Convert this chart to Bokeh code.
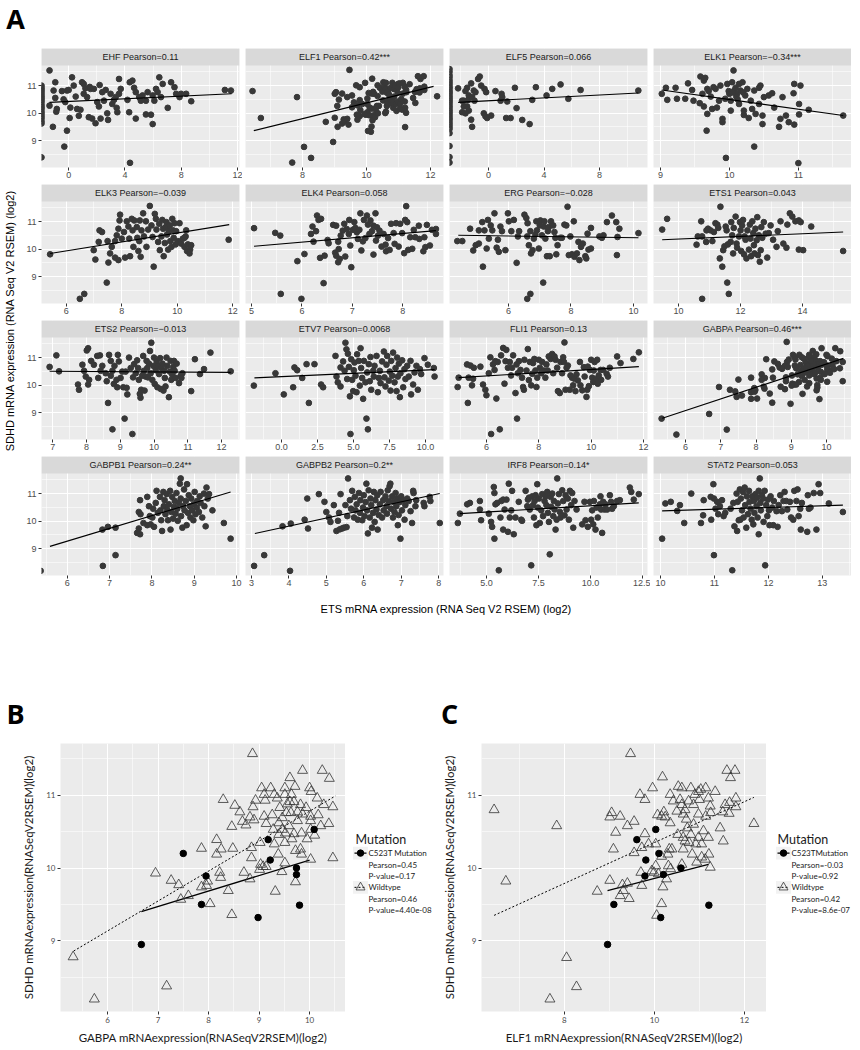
from bokeh.plotting import figure
from bokeh.layouts import row, column
from bokeh.models import Range1d, FixedTicker, BoxAnnotation, Label
from bokeh.core.properties import value
from bokeh.embed import file_html
from bokeh.resources import INLINE
import math

# ---------------------------------------------------------------- data (A)
GENES = ["EHF", "ELF1", "ELF5", "ELK1", "ELK3", "ELK4", "ERG", "ETS1",
         "ETS2", "ETV7", "FLI1", "GABPA", "GABPB1", "GABPB2", "IRF8", "STAT2"]
STRIP_TITLES = ["EHF Pearson=0.11", "ELF1 Pearson=0.42***", "ELF5 Pearson=0.066", "ELK1 Pearson=\u22120.34***",
                "ELK3 Pearson=\u22120.039", "ELK4 Pearson=0.058", "ERG Pearson=\u22120.028", "ETS1 Pearson=0.043",
                "ETS2 Pearson=\u22120.013", "ETV7 Pearson=0.0068", "FLI1 Pearson=0.13", "GABPA Pearson=0.46***",
                "GABPB1 Pearson=0.24**", "GABPB2 Pearson=0.2**", "IRF8 Pearson=0.14*", "STAT2 Pearson=0.053"]
X_RANGES = [(-1.93, 12.14), (6.22, 12.41), (-2.81, 11.45), (8.9, 11.77),
            (5.11, 12.24), (4.88, 8.81), (4.11, 10.45), (9.19, 15.58),
            (6.67, 12.53), (-2.5, 11.25), (4.59, 12.15), (5.09, 10.71),
            (5.39, 10.07), (2.84, 8.13), (3.22, 12.74), (9.87, 13.54)]
X_TICKS = [[0, 4, 8, 12], [8, 10, 12], [0, 4, 8], [9, 10, 11],
           [6, 8, 10, 12], [5, 6, 7, 8], [6, 8, 10], [10, 12, 14],
           [7, 8, 9, 10, 11, 12], [0, 2.5, 5, 7.5, 10], [6, 8, 10, 12], [6, 7, 8, 9, 10],
           [6, 7, 8, 9, 10], [3, 4, 5, 6, 7, 8], [5, 7.5, 10, 12.5], [10, 11, 12, 13]]
X_TICK_LABELS = [["0", "4", "8", "12"], ["8", "10", "12"], ["0", "4", "8"], ["9", "10", "11"],
                 ["6", "8", "10", "12"], ["5", "6", "7", "8"], ["6", "8", "10"], ["10", "12", "14"],
                 ["7", "8", "9", "10", "11", "12"], ["0.0", "2.5", "5.0", "7.5", "10.0"], ["6", "8", "10", "12"],
                 ["6", "7", "8", "9", "10"], ["6", "7", "8", "9", "10"], ["3", "4", "5", "6", "7", "8"],
                 ["5.0", "7.5", "10.0", "12.5"], ["10", "11", "12", "13"]]
Y_TICKS = [9, 10, 11]
Y_TICK_LABELS = ["9", "10", "11"]

# least-squares lines as drawn (x0, y0, x1, y1)
FITS = [(-1.36, 10.39, 11.58, 10.70), (6.48, 9.36, 12.10, 10.97), (-2.19, 10.39, 10.79, 10.73),
        (9.02, 10.84, 11.65, 9.91), (5.42, 9.84, 11.87, 10.89), (5.05, 10.10, 8.66, 10.67),
        (4.39, 10.50, 10.16, 10.41), (9.47, 10.34, 15.31, 10.62), (6.91, 10.50, 12.27, 10.46),
        (-1.88, 10.26, 10.63, 10.56), (4.94, 10.27, 11.82, 10.67), (5.34, 8.79, 10.48, 10.97),
        (5.59, 9.08, 9.86, 11.06), (3.09, 9.55, 8.03, 11.00), (3.72, 10.27, 12.32, 10.66),
        (10.03, 10.37, 13.38, 10.58)]

# samples with zero expression (log2 = -Inf), drawn on the panel edge
EHF_NEGINF_Y = [11.0, 10.92, 10.85, 10.78, 10.7, 10.62, 10.55, 10.48, 10.4, 10.3, 10.22, 10.15,
                10.05, 9.97, 9.88, 9.8, 9.7, 9.62, 8.39]
ELF5_NEGINF_Y = [11.6, 11.5, 11.38, 11.3, 11.2, 11.12, 11.04, 10.96, 10.9, 10.82, 10.76, 10.7, 10.62,
                 10.55, 10.48, 10.42, 10.35, 10.27, 10.2, 10.12, 10.05, 9.98, 9.9, 9.82, 9.75, 9.66,
                 9.58, 9.5, 9.42, 9.27, 8.8, 8.4, 8.2]

EHF_PTS = [(-1.36,11.55),(-0.95,11.12),(-1.07,10.82),(-1.36,10.27),(-1.12,9.5),(-0.95,10.55),(-0.84,10.15),
           (-0.88,10.05),(-0.48,10.8),(-0.36,10.5),(-0.24,10.4),(-0.12,10.82),(0.0,10.84),(0.12,10.2),
           (0.07,9.82),(-0.12,9.36),(-0.31,8.78),(0.24,11.3),(0.36,11.0),(0.6,10.15),(0.72,9.9),(0.84,10.12),
           (0.95,11.12),(1.07,11.06),(1.19,10.9),(1.07,10.7),(1.31,10.58),(1.43,9.85),(1.67,9.8),(1.91,9.63),
           (1.55,10.88),(1.79,10.88),(2.03,10.4),(2.15,10.24),(2.27,9.8),(2.39,10.76),(2.51,10.45),(2.63,10.84),
           (2.74,9.99),(2.8,9.75),(2.98,10.7),(3.1,10.33),(3.22,10.48),(3.34,10.58),(3.41,10.19),(3.46,10.03),
           (3.58,10.7),(3.58,11.24),(3.7,10.88),(4.18,10.48),(4.3,10.03),(4.34,11.12),(4.53,11.18),(4.65,10.92),
           (4.77,10.76),(4.77,9.8),(5.01,10.58),(5.13,10.45),(5.25,10.64),(5.49,10.45),(5.49,9.95),(5.61,10.76),
           (5.85,9.94),(5.97,9.6),(5.97,10.64),(6.09,10.45),(6.21,10.88),(6.44,11.3),(6.32,10.76),(6.56,10.58),
           (6.68,11.06),(7.04,10.19),(7.28,11.12),(7.52,10.94),(7.64,10.7),(7.88,10.58),(7.99,10.7),(8.35,10.7),
           (8.71,10.43),(11.1,10.84),(11.53,10.82),(4.36,8.19),(1.5,10.95),(2.2,11.02),(0.5,10.6)]

ELF5_PTS = [(-2.19,10.9),(-1.78,10.45),(-1.54,10.92),(-1.25,11.08),(-1.06,10.82),(-1.66,10.8),(-1.42,10.64),
            (-1.9,10.45),(-1.47,10.48),(-1.18,10.58),(-0.94,10.76),(-1.78,10.24),(-1.54,10.24),(-1.42,10.09),
            (-1.9,10.03),(-1.66,9.99),(-1.25,9.76),(-1.18,9.5),(-0.75,11.24),(-0.63,11.33),(-0.53,11.0),
            (-0.29,10.88),(-0.17,10.76),(-1.01,10.45),(-0.34,9.99),(-0.22,9.88),(-0.1,9.82),(0.19,9.91),
            (0.5,10.8),(0.94,10.7),(0.99,10.58),(0.87,10.45),(1.35,10.42),(1.27,9.82),(1.59,9.82),(1.9,10.92),
            (2.02,10.18),(2.43,9.75),(2.96,9.6),(3.15,10.48),(3.41,10.94),(4.18,10.64),(4.59,10.88),
            (5.19,11.04),(5.75,10.52),(6.63,10.84),(10.79,10.82)]

ELK1_PTS = [(9.02,10.7),(9.08,10.92),(9.1,10.48),(9.22,10.92),(9.24,10.52),(9.36,10.52),(9.4,11.08),(9.46,10.84),
            (9.48,10.45),(9.58,11.33),(9.61,10.7),(9.63,11.18),(9.65,11.28),(9.68,10.88),(9.57,10.36),(9.63,10.24),
            (9.68,9.97),(9.67,9.36),(9.7,10.8),(9.73,10.6),(9.75,10.15),(9.77,10.94),(9.8,10.88),(9.82,10.2),
            (9.87,11.0),(9.85,10.45),(9.9,9.79),(9.9,9.67),(9.94,10.52),(9.97,11.06),(9.99,10.8),(10.02,10.45),
            (10.02,10.09),(10.04,11.12),(10.06,11.55),(10.07,10.82),(10.09,10.92),(10.11,10.7),(10.14,11.06),
            (10.14,10.33),(10.16,10.82),(10.19,11.12),(10.21,10.09),(10.23,10.64),(10.26,10.88),(10.28,9.82),
            (10.31,10.45),(10.21,9.93),(10.33,10.15),(10.36,10.82),(10.38,9.97),(10.43,10.33),(10.43,10.92),
            (10.45,11.0),(10.48,9.91),(10.48,9.6),(10.36,8.78),(10.5,10.58),(10.57,10.64),(10.62,10.72),
            (10.65,10.2),(10.72,9.5),(10.74,9.79),(10.77,10.58),(10.82,9.91),(10.94,11.06),(11.03,11.0),
            (10.93,10.72),(11.01,10.33),(10.86,9.67),(10.94,9.58),(11.01,9.95),(11.15,10.12),(11.65,9.91),
            (9.95,8.37),(11.0,8.18),(10.0,10.7),(10.1,10.6),(10.05,10.75),(10.2,10.75),(10.12,10.5)]

ELK3_PTS = [(5.42,9.81),(6.49,8.19),(6.65,8.37),(7.46,8.78),(6.99,9.96),(7.05,9.62),(7.17,10.26),(7.29,10.62),
            (7.49,10.29),(7.52,9.51),(7.58,9.84),(7.64,10.08),(7.76,9.69),(7.88,9.6),(7.76,10.29),(7.82,10.5),
            (7.88,10.74),(7.92,11.04),(7.94,11.25),(8.0,10.38),(8.08,10.62),(8.12,9.69),(8.18,11.01),(8.24,10.82),
            (8.27,10.38),(8.3,9.74),(8.36,11.1),(8.39,10.68),(8.42,10.08),(8.45,11.04),(8.54,10.8),(8.56,10.41),
            (8.6,9.93),(8.63,10.29),(8.65,11.04),(8.68,9.72),(8.71,10.68),(8.77,11.3),(8.8,10.46),(8.87,11.01),
            (8.89,10.08),(8.95,10.71),(9.01,11.57),(9.07,10.86),(9.11,10.44),(9.15,9.36),(9.19,11.28),(9.23,11.1),
            (9.25,10.71),(9.31,10.26),(9.35,10.92),(9.37,9.96),(9.43,10.46),(9.46,11.06),(9.49,10.74),(9.51,9.74),
            (9.55,10.22),(9.58,10.8),(9.61,10.98),(9.63,10.53),(9.67,9.98),(9.7,10.65),(9.73,10.86),(9.75,10.29),
            (9.79,10.08),(9.82,11.1),(9.85,10.68),(9.87,10.41),(9.9,10.94),(9.94,10.17),(9.96,10.65),(10.02,10.29),
            (10.08,10.94),(10.14,10.2),(10.2,10.38),(10.26,10.08),(10.3,10.46),(10.35,9.93),(10.38,10.17),
            (10.44,9.84),(10.46,9.98),(10.5,10.14),(10.32,10.68),(10.26,10.41),(11.85,10.34),(7.2,10.68)]

ELK4_PTS = [(5.05,10.76),(5.47,10.59),(5.57,10.49),(5.58,8.37),(5.99,8.19),(5.91,9.56),(6.05,9.82),(6.18,10.55),
            (6.21,10.82),(6.23,10.27),(6.28,10.65),(6.3,11.22),(6.33,11.06),(6.38,11.1),(6.36,9.68),(6.43,8.76),
            (6.45,9.76),(6.51,10.33),(6.53,10.21),(6.62,10.88),(6.68,10.85),(6.66,9.87),(6.68,9.76),(6.72,10.27),
            (6.73,10.0),(6.72,9.52),(6.75,9.64),(6.77,10.49),(6.81,10.67),(6.84,10.92),(6.86,9.73),(6.89,10.73),
            (6.93,10.55),(6.94,11.06),(6.96,10.13),(6.98,9.34),(7.01,10.7),(7.04,10.98),(7.06,10.77),(7.09,10.61),
            (7.11,10.37),(7.14,10.7),(7.16,11.3),(7.18,9.95),(7.21,10.28),(7.23,11.06),(7.26,10.4),(7.29,11.22),
            (7.31,10.89),(7.34,10.55),(7.36,11.04),(7.39,10.65),(7.42,9.8),(7.42,10.85),(7.46,11.3),(7.47,10.31),
            (7.49,10.79),(7.51,10.49),(7.54,10.67),(7.58,10.09),(7.62,10.55),(7.66,10.16),(7.67,9.92),(7.71,10.4),
            (7.74,9.97),(7.77,10.92),(7.82,10.58),(7.84,10.19),(7.87,10.94),(7.92,10.09),(7.95,10.92),(7.99,10.58),
            (8.03,9.85),(8.05,11.06),(8.07,11.56),(8.09,10.98),(8.11,9.97),(8.15,10.43),(8.19,10.01),(8.22,10.7),
            (8.25,10.43),(8.32,10.85),(8.33,10.37),(8.41,9.92),(8.43,10.43),(8.45,10.07),(8.48,10.88),(8.54,10.13),
            (8.58,10.7),(8.66,10.55),(8.66,10.73)]

ERG_PTS = [(4.36,10.29),(4.52,10.29),(4.77,10.74),(4.87,9.95),(4.95,10.14),(5.05,10.2),(5.05,10.68),(5.16,10.98),
           (5.18,9.36),(5.23,10.68),(5.3,10.02),(5.34,11.06),(5.37,10.38),(5.43,10.86),(5.48,10.68),(5.55,11.3),
           (5.62,10.05),(5.66,10.34),(5.69,9.9),(5.74,10.82),(5.79,10.65),(5.9,9.96),(5.98,11.3),(6.01,11.01),
           (6.09,10.65),(6.17,11.06),(6.26,9.5),(6.3,10.46),(6.34,10.65),(6.51,11.25),(6.57,11.13),(6.6,10.46),
           (6.61,10.94),(6.65,10.14),(6.7,10.65),(6.72,9.84),(6.77,9.96),(6.81,10.38),(6.86,10.53),(6.89,11.01),
           (6.91,10.68),(6.97,10.02),(7.0,10.86),(7.02,11.04),(7.07,10.5),(7.13,10.82),(7.15,11.01),(7.18,10.38),
           (7.23,9.74),(7.26,10.65),(7.29,10.8),(7.32,9.74),(7.36,11.01),(7.43,10.86),(7.47,10.62),(7.5,10.41),
           (7.53,9.81),(7.57,10.14),(7.66,10.41),(7.71,10.41),(7.79,10.89),(7.85,10.86),(7.89,11.54),(7.93,9.78),
           (7.98,10.46),(8.03,9.81),(8.09,11.01),(8.11,9.72),(8.19,9.84),(8.24,10.26),(8.27,9.6),(8.32,10.08),
           (8.38,10.2),(8.46,9.74),(8.49,9.66),(8.53,10.56),(8.56,9.98),(8.64,10.77),(8.64,10.02),(8.91,10.46),
           (8.99,10.41),(9.04,10.5),(9.15,10.98),(9.31,11.22),(9.45,10.98),(9.47,9.78),(9.49,10.44),(9.55,10.74),
           (10.16,10.58),(7.11,8.78),(6.6,8.19),(6.7,8.37)]

ETS1_PTS = [(9.47,10.71),(9.63,11.1),(10.58,10.16),(10.62,10.46),(10.73,11.01),(10.76,10.46),(10.89,10.26),
            (10.9,10.68),(10.95,10.74),(11.03,10.68),(11.09,10.29),(11.14,10.62),(11.19,10.94),(11.25,10.89),
            (11.28,10.77),(11.33,9.66),(11.35,11.54),(11.41,9.36),(11.44,9.96),(11.48,10.1),(11.52,10.82),
            (11.55,10.68),(11.57,8.78),(11.62,8.37),(10.76,8.19),(11.59,10.17),(11.68,10.26),(11.7,10.98),
            (11.73,10.5),(11.76,9.84),(11.78,10.77),(11.84,11.18),(11.87,10.2),(11.89,10.05),(11.95,10.46),
            (11.98,10.98),(12.0,10.68),(12.02,9.93),(12.05,10.86),(12.08,11.06),(12.11,9.81),(12.13,10.46),
            (12.16,10.34),(12.19,9.66),(12.22,10.68),(12.27,9.98),(12.3,10.89),(12.32,10.38),(12.34,9.74),
            (12.38,11.01),(12.41,10.58),(12.43,10.14),(12.45,9.84),(12.48,10.74),(12.52,10.32),(12.54,11.16),
            (12.56,9.78),(12.59,10.5),(12.62,9.54),(12.65,9.96),(12.67,10.8),(12.7,10.41),(12.75,10.98),
            (12.81,10.56),(12.86,9.69),(12.91,10.58),(12.97,10.86),(13.05,10.34),(13.16,10.08),(13.2,10.65),
            (13.29,11.01),(13.38,10.2),(13.48,10.05),(13.51,10.89),(13.59,11.3),(13.67,11.18),(13.77,11.01),
            (13.88,11.04),(13.94,10.98),(13.88,9.98),(14.02,9.96),(14.28,10.82),(15.31,9.93)]

ETS2_PTS = [(6.91,10.66),(7.11,11.08),(7.19,10.5),(7.75,10.02),(7.78,9.83),(7.88,10.74),(7.93,10.52),(7.98,10.31),
            (8.01,11.26),(8.05,11.34),(8.08,10.19),(8.05,10.02),(8.14,10.88),(8.22,10.74),(8.32,11.06),(8.35,10.26),
            (8.4,11.08),(8.42,10.52),(8.47,10.7),(8.57,10.43),(8.6,10.14),(8.64,9.35),(8.67,11.1),(8.72,10.88),
            (8.72,10.34),(8.77,10.52),(8.81,10.04),(8.83,10.7),(8.89,10.19),(8.91,9.92),(8.93,11.1),(8.77,8.39),
            (8.96,10.86),(9.01,10.26),(9.06,10.49),(9.09,9.92),(9.13,8.78),(9.16,10.49),(9.19,9.9),(9.21,9.66),
            (9.26,11.0),(9.31,10.62),(9.36,8.22),(9.38,10.28),(9.41,10.76),(9.46,10.43),(9.5,10.9),(9.53,10.62),
            (9.55,10.19),(9.58,9.68),(9.6,9.54),(9.62,9.83),(9.65,10.34),(9.68,11.06),(9.7,10.52),(9.72,9.8),
            (9.75,10.31),(9.78,10.88),(9.8,10.62),(9.82,10.28),(9.85,10.78),(9.88,11.24),(9.9,10.43),(9.92,11.54),
            (9.95,10.19),(9.98,10.7),(10.0,11.0),(10.02,10.04),(10.05,10.54),(10.08,10.86),(10.1,9.92),(10.13,10.7),
            (10.15,10.4),(10.18,10.98),(10.2,9.86),(10.22,10.62),(10.25,10.78),(10.28,9.8),(10.3,10.52),
            (10.32,10.26),(10.34,9.95),(10.37,11.0),(10.39,10.7),(10.44,9.56),(10.47,10.49),(10.49,10.88),
            (10.51,10.19),(10.54,10.38),(10.57,10.66),(10.59,10.88),(10.61,10.52),(10.64,10.26),(10.67,10.78),
            (10.74,10.07),(10.79,10.34),(10.81,10.26),(10.84,10.43),(11.1,9.78),(11.21,10.94),(11.36,10.4),
            (11.48,10.58),(11.67,11.18),(12.27,10.5)]

ETV7_PTS = [(-1.92,9.98),(-0.42,10.43),(0.16,9.66),(0.81,9.92),(0.9,10.64),(1.09,10.54),(1.44,10.26),(1.74,10.76),
            (1.9,9.35),(2.29,10.76),(2.75,10.02),(2.89,9.92),(3.75,11.06),(3.82,10.31),(3.91,10.1),(4.1,9.95),
            (4.1,10.64),(4.28,10.86),(4.38,10.52),(4.44,11.54),(4.51,11.3),(4.56,10.22),(4.61,11.14),(4.68,10.66),
            (4.75,9.59),(4.79,8.22),(4.84,10.94),(4.91,10.19),(4.98,9.78),(5.02,10.54),(5.07,10.82),(5.14,10.34),
            (5.21,9.74),(5.25,11.12),(5.37,10.88),(5.44,9.98),(5.49,11.34),(5.53,10.62),(5.6,10.26),(5.67,9.5),
            (5.72,10.88),(5.83,10.1),(5.9,8.78),(5.95,10.46),(6.0,8.39),(6.06,10.76),(6.13,10.14),(6.18,11.02),
            (6.23,9.83),(6.37,10.52),(6.41,10.31),(6.46,10.7),(6.6,11.06),(6.69,9.74),(6.76,10.26),(6.83,10.52),
            (6.88,10.07),(6.99,10.86),(7.11,11.22),(7.15,10.28),(7.22,9.95),(7.29,10.74),(7.34,11.06),(7.45,10.16),
            (7.52,10.49),(7.57,9.8),(7.62,10.88),(7.69,10.34),(7.75,11.18),(7.85,10.1),(7.92,10.62),(7.99,9.78),
            (8.03,11.0),(8.08,10.31),(8.15,10.78),(8.22,9.56),(8.26,10.43),(8.38,10.9),(8.45,9.92),(8.54,10.58),
            (8.61,10.22),(8.73,10.7),(8.84,10.31),(8.96,10.88),(9.0,9.66),(9.14,10.02),(9.24,10.46),(9.37,10.7),
            (9.47,9.83),(9.61,10.58),(9.7,10.4),(9.93,10.98),(10.16,10.74),(10.63,10.31),(10.58,10.62)]

FLI1_PTS = [(4.9,9.93),(4.94,10.27),(5.26,10.75),(5.32,10.27),(5.29,9.35),(5.39,10.71),(5.45,9.99),(5.49,10.23),
            (5.52,10.63),(5.77,10.67),(5.87,10.02),(5.96,9.83),(6.0,9.63),(6.09,10.43),(6.15,11.01),(6.18,8.22),
            (6.25,10.75),(6.31,10.55),(6.34,10.87),(6.38,9.51),(6.43,10.84),(6.51,8.39),(6.56,11.08),(6.64,11.35),
            (6.69,10.05),(6.73,10.87),(6.76,11.28),(6.82,10.63),(6.89,10.84),(6.94,10.35),(6.98,10.63),(7.02,11.08),
            (7.11,9.71),(7.15,10.75),(7.17,8.78),(7.2,10.43),(7.24,10.87),(7.3,10.55),(7.36,10.27),(7.4,9.93),
            (7.43,9.83),(7.45,10.92),(7.53,10.53),(7.58,11.31),(7.62,10.18),(7.66,10.84),(7.71,9.99),(7.75,10.41),
            (7.78,10.8),(7.83,10.95),(7.87,10.53),(7.91,9.93),(7.94,10.27),(8.0,10.92),(8.04,10.63),(8.09,10.43),
            (8.13,10.84),(8.19,10.53),(8.25,10.27),(8.29,10.75),(8.34,10.53),(8.38,11.04),(8.45,10.95),(8.51,11.13),
            (8.55,10.43),(8.6,11.04),(8.64,10.92),(8.7,10.63),(8.73,9.78),(8.8,9.71),(8.83,10.84),(8.89,10.43),
            (8.93,11.01),(8.96,10.84),(8.98,11.55),(9.02,9.83),(9.06,10.63),(9.11,10.71),(9.18,9.83),(9.21,10.35),
            (9.27,10.27),(9.31,9.99),(9.36,10.23),(9.4,9.78),(9.44,10.39),(9.49,10.17),(9.57,10.84),(9.59,9.99),
            (9.66,9.81),(9.72,10.65),(9.75,10.31),(9.82,9.57),(9.85,9.83),(9.87,10.67),(9.91,9.96),(9.95,10.55),
            (10.0,10.92),(10.04,10.27),(10.08,10.11),(10.1,10.53),(10.13,10.84),(10.2,10.23),(10.23,10.92),
            (10.29,10.35),(10.36,10.55),(10.46,10.55),(10.59,10.41),(10.64,10.31),(10.71,10.63),(10.99,11.04),
            (11.12,10.8),(11.61,10.95),(11.82,11.19),(10.38,10.19),(10.25,10.05)]

GABPB1_PTS = [(5.37,8.19),(6.83,9.69),(6.84,8.37),(6.96,9.79),(7.14,9.76),(7.14,8.76),(7.65,9.57),(7.72,9.52),
              (7.69,9.73),(7.69,10.33),(7.72,10.76),(7.73,10.25),(7.8,9.93),(7.89,9.85),(7.89,10.88),(7.93,10.54),
              (7.95,10.18),(7.97,9.88),(8.01,10.13),(8.03,10.45),(8.05,9.79),(8.09,10.66),(8.11,11.1),(8.14,10.3),
              (8.19,10.88),(8.2,10.39),(8.22,10.03),(8.24,9.64),(8.27,11.06),(8.28,10.54),(8.3,10.76),(8.32,10.25),
              (8.35,10.98),(8.36,10.42),(8.38,10.03),(8.4,10.61),(8.43,11.1),(8.44,9.69),(8.46,10.33),(8.48,10.88),
              (8.5,10.09),(8.52,10.52),(8.54,10.73),(8.56,10.27),(8.58,11.02),(8.6,10.45),(8.61,10.01),(8.64,10.66),
              (8.66,11.36),(8.68,11.55),(8.68,10.82),(8.69,10.18),(8.72,9.76),(8.74,10.54),(8.76,11.15),(8.77,10.39),
              (8.8,10.73),(8.82,9.85),(8.83,11.34),(8.85,10.3),(8.87,10.94),(8.9,10.54),(8.91,10.13),(8.93,10.82),
              (8.95,10.39),(8.98,10.03),(8.99,10.61),(9.01,11.06),(9.03,10.25),(9.06,10.49),(9.07,10.73),(9.11,10.33),
              (9.13,10.9),(9.15,10.66),(9.19,10.13),(9.23,11.0),(9.24,10.54),(9.27,9.81),(9.29,11.22),(9.32,10.82),
              (9.35,10.98),(9.43,10.39),(9.7,9.93),(9.86,9.36)]

GABPB2_PTS = [(3.07,8.37),(3.34,8.76),(3.83,9.81),(4.03,8.19),(4.05,9.91),(4.42,10.05),(4.49,10.82),(4.51,9.73),
              (4.8,10.98),(4.95,10.7),(5.0,10.33),(5.07,10.13),(5.11,9.97),(5.2,10.58),(5.27,9.64),(5.31,10.01),
              (5.34,10.3),(5.36,9.7),(5.38,10.98),(5.42,9.73),(5.47,9.76),(5.51,10.58),(5.54,9.78),(5.56,10.18),
              (5.58,11.55),(5.63,10.76),(5.66,10.45),(5.69,11.1),(5.74,10.13),(5.76,10.88),(5.78,10.39),(5.81,10.61),
              (5.84,10.05),(5.87,11.02),(5.9,10.3),(5.91,10.76),(5.96,10.03),(5.98,10.49),(6.0,10.94),(6.02,10.18),
              (6.05,10.69),(6.07,11.36),(6.09,10.39),(6.11,9.55),(6.13,11.12),(6.16,10.13),(6.18,10.82),(6.2,10.58),
              (6.22,9.76),(6.25,10.3),(6.27,11.06),(6.29,9.97),(6.31,10.76),(6.34,10.42),(6.36,10.94),(6.37,9.69),
              (6.4,10.22),(6.43,10.61),(6.45,11.06),(6.49,10.13),(6.52,10.76),(6.53,10.39),(6.58,10.9),(6.61,10.54),
              (6.62,10.27),(6.64,11.12),(6.67,10.73),(6.69,11.27),(6.71,11.36),(6.73,10.45),(6.76,10.9),(6.78,10.13),
              (6.8,10.7),(6.82,10.33),(6.85,11.02),(6.87,10.54),(6.89,10.82),(6.91,9.85),(6.93,10.22),(6.96,10.69),
              (6.98,9.36),(7.0,10.9),(7.02,10.39),(7.05,10.76),(7.09,10.05),(7.11,10.58),(7.16,10.82),(7.2,10.73),
              (7.25,10.36),(7.29,9.93),(7.32,11.1),(7.33,11.02),(7.38,10.54),(7.4,10.76),(7.6,10.66),(7.62,10.54),
              (7.76,10.88),(7.78,10.73),(8.03,9.93)]

IRF8_PTS = [(3.62,9.93),(3.72,10.27),(4.07,10.61),(4.2,10.66),(4.68,10.73),(4.68,10.42),(4.74,10.03),(5.11,10.27),
            (5.22,9.97),(5.27,9.79),(5.35,11.24),(5.38,11.02),(5.43,10.61),(5.38,9.36),(5.51,10.66),(5.59,8.21),
            (5.67,10.13),(5.71,10.73),(5.8,10.78),(5.8,9.69),(5.87,10.42),(5.96,10.78),(6.03,9.61),(6.07,11.36),
            (6.12,10.13),(6.19,10.39),(6.23,11.1),(6.31,9.52),(6.39,10.13),(6.55,10.7),(6.67,10.05),(6.71,10.01),
            (6.88,11.1),(6.96,10.54),(6.99,10.78),(7.04,10.85),(7.08,10.42),(7.15,8.39),(7.2,10.9),(7.24,10.58),
            (7.28,10.13),(7.31,10.73),(7.36,10.94),(7.4,9.85),(7.44,11.34),(7.47,10.49),(7.52,10.82),(7.56,9.93),
            (7.63,10.39),(7.68,10.98),(7.72,10.18),(7.79,10.73),(7.84,10.9),(7.88,10.58),(7.92,11.06),(7.95,10.3),
            (8.0,9.97),(8.04,8.79),(8.08,10.88),(8.11,10.52),(8.16,11.0),(8.21,10.18),(8.24,10.73),(8.27,10.42),
            (8.32,9.69),(8.37,10.05),(8.4,11.55),(8.43,10.64),(8.48,10.98),(8.53,10.33),(8.56,10.13),(8.64,11.12),
            (8.69,10.73),(8.75,10.21),(8.8,10.94),(8.85,10.42),(8.91,10.82),(8.96,10.05),(9.01,11.1),(9.07,10.58),
            (9.12,11.02),(9.17,9.76),(9.23,10.73),(9.33,10.42),(9.71,10.7),(9.6,9.88),(9.76,10.03),(9.87,9.79),
            (9.97,10.7),(10.03,10.05),(10.08,10.39),(10.13,9.88),(10.16,10.73),(10.24,9.69),(10.29,10.49),
            (10.35,10.13),(10.45,10.61),(10.48,10.9),(10.51,10.42),(10.56,9.57),(10.61,10.7),(10.67,10.42),
            (10.72,10.61),(10.8,10.42),(10.93,10.94),(10.99,10.7),(11.04,10.45),(11.12,10.54),(11.28,10.73),
            (11.41,10.76),(11.89,11.22),(11.96,11.06),(12.08,10.78),(12.32,10.98)]

STAT2_PTS = [(10.03,9.36),(10.09,10.64),(10.19,10.7),(10.31,10.37),(10.36,10.58),(10.44,9.93),(10.57,11.0),
             (10.75,9.93),(10.79,10.21),(10.8,10.76),(10.93,10.88),(10.94,10.05),(10.98,11.34),(10.99,8.76),
             (10.99,10.82),(11.02,10.45),(11.05,10.7),(11.07,10.25),(11.1,10.54),(11.14,10.76),(11.17,10.18),
             (11.2,10.3),(11.3,10.45),(11.33,8.21),(11.35,10.66),(11.37,9.81),(11.41,11.0),(11.42,9.64),(11.43,10.7),
             (11.45,10.03),(11.47,11.15),(11.48,10.05),(11.49,10.82),(11.51,10.39),(11.53,11.06),(11.54,10.13),
             (11.56,11.22),(11.57,10.58),(11.59,9.76),(11.6,10.9),(11.62,10.25),(11.64,11.1),(11.65,10.7),
             (11.67,10.45),(11.69,10.05),(11.7,10.9),(11.72,9.88),(11.73,10.73),(11.74,10.3),(11.76,10.98),
             (11.78,10.54),(11.79,10.85),(11.8,10.13),(11.82,11.1),(11.82,9.52),(11.84,11.55),(11.85,10.66),
             (11.86,10.39),(11.88,10.94),(11.9,10.82),(11.91,9.97),(11.93,11.1),(11.94,8.39),(11.96,10.58),
             (11.98,10.18),(11.99,10.78),(12.01,10.39),(12.02,9.85),(12.04,10.9),(12.07,10.49),(12.09,9.85),
             (12.1,10.73),(12.15,10.36),(12.17,9.79),(12.19,10.58),(12.22,10.94),(12.25,10.36),(12.28,10.73),
             (12.3,11.06),(12.33,10.73),(12.35,10.42),(12.4,10.7),(12.42,10.13),(12.46,10.05),(12.48,11.1),
             (12.52,10.73),(12.54,11.15),(12.56,10.18),(12.59,10.45),(12.6,9.69),(12.62,10.66),(12.72,9.61),
             (12.73,10.94),(12.75,10.45),(12.78,10.49),(12.84,11.02),(12.89,9.69),(12.93,11.34),(12.96,11.02),
             (13.12,10.64),(13.38,10.33)]

# ---------------------------------------------------------------- data (B, C)
B_MUT = [(7.5,10.2),(7.95,9.89),(7.86,9.5),(6.67,8.95),(9.18,10.39),(9.22,10.11),(9.74,10.0),(9.74,9.91),
         (9.8,9.49),(8.98,9.32),(10.09,10.53)]
B_WT = [(8.87,11.57),(9.86,11.34),(10.25,11.34),(10.39,11.23),(9.61,11.24),(9.05,11.1),(9.23,11.1),(9.51,11.1),
        (9.71,11.12),(10.0,11.1),(10.03,11.05),(9.1,11.01),(9.3,11.01),(9.51,11.01),(9.64,11.01),(10.15,10.96),
        (10.28,10.87),(10.46,10.84),(8.29,10.94),(8.52,10.86),(8.62,10.77),(8.88,10.84),(8.93,10.93),(9.12,10.93),
        (9.36,10.96),(9.41,10.83),(9.61,10.91),(9.69,10.91),(9.82,10.87),(9.93,10.83),(9.76,10.77),(9.54,10.76),
        (9.26,10.73),(9.1,10.71),(8.82,10.7),(8.67,10.64),(8.74,10.59),(8.9,10.66),(9.14,10.61),(9.46,10.69),
        (9.63,10.76),(9.86,10.74),(10.02,10.71),(10.17,10.73),(10.22,10.58),(10.38,10.61),(10.02,10.53),
        (10.1,10.45),(9.84,10.48),(9.95,10.4),(9.65,10.4),(9.52,10.48),(9.46,10.53),(9.59,10.58),(9.39,10.62),
        (8.46,10.57),(8.16,10.39),(7.86,10.27),(8.25,10.26),(8.48,10.27),(8.85,10.28),(8.16,10.19),(8.85,10.14),
        (9.02,10.35),(9.3,10.33),(9.38,10.19),(9.51,10.35),(9.72,10.24),(9.82,10.26),(9.84,10.19),(9.51,10.07),
        (9.03,10.05),(9.08,10.02),(9.14,10.02),(9.01,9.98),(8.7,9.94),(8.22,9.94),(8.24,9.87),(7.98,9.82),
        (7.86,9.74),(7.96,9.76),(6.95,9.93),(7.26,9.83),(7.41,9.77),(7.6,9.62),(7.45,9.57),(8.03,9.51),
        (8.39,9.69),(8.82,9.85),(9.32,9.68),(9.45,9.95),(9.72,9.81),(10.02,10.12),(10.46,10.14),(8.46,9.36),
        (5.32,8.78),(5.74,8.2),(7.17,8.38),(9.69,10.47),(9.56,10.88),(9.76,10.65),(10.02,10.65),(9.28,10.53),
        (9.39,10.46)]
C_MUT = [(9.61,10.39),(10.03,10.53),(10.1,10.2),(9.81,10.11),(9.79,9.89),(10.2,9.91),(10.59,10.0),(9.1,9.5),
         (11.21,9.49),(10.14,9.32),(8.96,8.95)]
C_WT = [(6.44,10.8),(6.7,9.82),(7.83,10.58),(8.05,8.77),(8.27,8.37),(7.68,8.2),(9.47,11.57),(8.73,9.68),
        (9.01,10.7),(9.05,10.76),(9.24,10.71),(9.14,10.49),(9.09,10.26),(9.01,9.83),(9.29,9.77),(9.24,9.62),
        (9.31,9.69),(9.4,10.58),(9.55,10.64),(9.55,10.21),(9.44,9.58),(9.4,9.79),(9.68,11.01),(9.79,10.94),
        (9.79,10.47),(9.7,9.94),(9.72,9.76),(9.72,10.28),(9.96,11.1),(10.03,10.33),(10.07,10.73),(10.16,10.71),
        (10.18,11.25),(10.21,10.77),(10.24,10.7),(9.99,9.94),(10.03,10.03),(10.09,9.92),(10.16,10.16),
        (10.19,9.74),(10.16,9.51),(10.05,9.35),(10.27,9.85),(10.31,10.03),(10.33,10.26),(10.35,10.62),
        (10.35,11.01),(10.42,10.92),(10.39,10.26),(10.5,10.78),(10.52,10.46),(10.53,11.12),(10.57,10.94),
        (10.61,11.1),(10.61,10.87),(10.64,10.74),(10.64,10.42),(10.64,10.26),(10.61,10.05),(10.68,10.37),
        (10.68,10.8),(10.71,10.67),(10.73,10.55),(10.76,10.92),(10.77,10.35),(10.81,11.1),(10.81,10.46),
        (10.84,10.19),(10.87,10.6),(10.87,10.87),(10.9,11.01),(10.92,10.33),(10.94,10.08),(10.98,11.05),
        (10.98,10.74),(10.98,10.42),(11.0,10.94),(11.03,11.08),(11.05,10.15),(11.09,10.51),(11.13,10.12),
        (11.14,11.1),(11.14,10.71),(11.2,10.96),(11.2,10.42),(11.21,10.19),(11.24,10.85),(11.25,10.76),
        (11.24,10.01),(11.35,11.05),(11.46,10.55),(11.52,10.77),(11.53,10.37),(11.57,10.87),(11.61,11.34),
        (11.66,10.75),(11.69,11.24),(11.67,10.9),(11.79,11.34),(11.81,10.96),(11.81,10.84),(12.21,10.61),
        (10.36,9.99),(9.87,10.33),(10.3,10.19),(11.05,10.33),(9.94,9.96)]
B_MUT_FIT = (6.67, 9.40, 10.0, 10.11)
B_WT_FIT = (5.33, 8.86, 10.51, 10.99)
C_MUT_FIT = (8.96, 9.69, 11.2, 10.05)
C_WT_FIT = (6.44, 9.35, 12.21, 10.97)
B_X_TICKS, B_X_LABELS = [6, 7, 8, 9, 10], ["6", "7", "8", "9", "10"]
C_X_TICKS, C_X_LABELS = [8, 10, 12], ["8", "10", "12"]
B_X_RANGE, C_X_RANGE = (5.07, 10.71), (6.16, 12.49)
BC_Y_RANGE = (8.03, 11.71)
LEGEND_TITLE = "Mutation"
B_LEGEND = [["C523T Mutation", "Pearson=0.45", "P-value=0.17"], ["Wildtype", "Pearson=0.46", "P-value=4.40e-08"]]
C_LEGEND = [["C523TMutation", "Pearson=-0.03", "P-value=0.92"], ["Wildtype", "Pearson=0.42", "P-value=8.6e-07"]]

PANEL_PTS = {"EHF": EHF_PTS, "ELF1": C_MUT + C_WT, "ELF5": ELF5_PTS, "ELK1": ELK1_PTS, "ELK3": ELK3_PTS,
             "ELK4": ELK4_PTS, "ERG": ERG_PTS, "ETS1": ETS1_PTS, "ETS2": ETS2_PTS, "ETV7": ETV7_PTS,
             "FLI1": FLI1_PTS, "GABPA": B_MUT + B_WT, "GABPB1": GABPB1_PTS, "GABPB2": GABPB2_PTS,
             "IRF8": IRF8_PTS, "STAT2": STAT2_PTS}
PANEL_NEGINF = {"EHF": EHF_NEGINF_Y, "ELF5": ELF5_NEGINF_Y}

# ---------------------------------------------------------------- style
F1 = "Liberation Sans"
F2 = "Lato"
FB = "Open Sans"
BG = "#EBEBEB"
PT = "#383838"
Y_LO, Y_HI = 8.02, 11.73
PLOT_PX, STRIP_PX = 102, 17
Y_TOP = Y_HI + (Y_HI - Y_LO) * STRIP_PX / PLOT_PX


def minor_of(ticks, lo, hi):
    step = ticks[1] - ticks[0]
    m = [t - step / 2 for t in ticks] + [ticks[-1] + step / 2]
    return [v for v in m if lo <= v <= hi]


def style_grid(p, xt, xr, yt, yr):
    p.xgrid.ticker = FixedTicker(ticks=xt, minor_ticks=minor_of(xt, *xr))
    p.ygrid.ticker = FixedTicker(ticks=yt, minor_ticks=minor_of(yt, *yr))
    for g in (p.xgrid, p.ygrid):
        g.grid_line_color = "white"
        g.grid_line_width = 1.1
        g.minor_grid_line_color = "white"
        g.minor_grid_line_width = 0.55


def style_axis(ax, ticks, labels, font, size):
    ax.ticker = FixedTicker(ticks=ticks)
    ax.major_label_overrides = {t: l for t, l in zip(ticks, labels)}
    ax.axis_line_color = None
    ax.major_tick_in = 0
    ax.major_tick_out = 3
    ax.minor_tick_in = 0
    ax.minor_tick_out = 0
    ax.major_tick_line_color = "#333333"
    ax.major_label_text_font = font
    ax.major_label_text_font_size = size
    ax.major_label_text_color = "#4D4D4D"


def facet(i, col):
    g = GENES[i]
    xr = X_RANGES[i]
    p = figure(frame_width=198, frame_height=PLOT_PX + STRIP_PX,
               x_range=Range1d(*xr), y_range=Range1d(Y_LO, Y_TOP),
               min_border_left=19 if col == 0 else 3, min_border_right=0 if col == 3 else 3,
               min_border_top=0, min_border_bottom=17,
               y_axis_location="left" if col == 0 else None,
               output_backend="svg", toolbar_location=None,
               background_fill_color=BG, border_fill_color="white", outline_line_color=None)
    style_grid(p, X_TICKS[i], xr, Y_TICKS, (Y_LO, Y_HI))
    style_axis(p.xaxis[0], X_TICKS[i], X_TICK_LABELS[i], F1, "9px")
    p.xaxis.major_label_standoff = 1
    if col == 0:
        style_axis(p.yaxis[0], Y_TICKS, Y_TICK_LABELS, F1, "9px")
        p.yaxis.major_label_standoff = 2
    pts = PANEL_PTS[g]
    p.scatter([a for a, b in pts], [b for a, b in pts], size=5.7, color=PT)
    if g in PANEL_NEGINF:
        ys = PANEL_NEGINF[g]
        p.scatter([xr[0]] * len(ys), ys, size=5.7, color=PT)
    x0, y0, x1, y1 = FITS[i]
    p.line([x0, x1], [y0, y1], color="black", line_width=1.1)
    p.add_layout(BoxAnnotation(bottom=Y_HI, fill_color="#D9D9D9", fill_alpha=1, line_color=None))
    p.add_layout(Label(x=(xr[0] + xr[1]) / 2, y=(Y_HI + Y_TOP) / 2, text=STRIP_TITLES[i],
                       text_align="center", text_baseline="middle", text_font=F1,
                       text_font_size="9px", text_color="#1A1A1A"))
    return p


def blank(w, h):
    p = figure(width=w, height=h, x_range=Range1d(0, w), y_range=Range1d(h, 0), min_border=0,
               x_axis_location=None, y_axis_location=None, output_backend="svg",
               toolbar_location=None, outline_line_color=None, background_fill_color="white",
               border_fill_color="white")
    p.xgrid.visible = False
    p.ygrid.visible = False
    return p


BC_H = 313


def mut_fig(xr, xt, xl, mut, wt, mfit, wfit, xlabel, left):
    p = figure(frame_width=285, frame_height=268, x_range=Range1d(*xr), y_range=Range1d(*BC_Y_RANGE),
               min_border_left=left, min_border_right=0, min_border_top=10, min_border_bottom=35,
               output_backend="svg", toolbar_location=None,
               background_fill_color=BG, border_fill_color="white", outline_line_color=None)
    style_grid(p, xt, xr, Y_TICKS, BC_Y_RANGE)
    style_axis(p.xaxis[0], xt, xl, F2, "8px")
    style_axis(p.yaxis[0], Y_TICKS, Y_TICK_LABELS, F2, "8px")
    p.xaxis.major_label_standoff = 2
    p.yaxis.major_label_standoff = 2
    for ax, lab, st in ((p.xaxis[0], xlabel, 5), (p.yaxis[0], "SDHD mRNAexpression(RNASeqV2RSEM)(log2)", 8)):
        ax.axis_label = lab
        ax.axis_label_text_font = F2
        ax.axis_label_text_font_size = "11.5px"
        ax.axis_label_text_font_style = "normal"
        ax.axis_label_text_color = "#1A1A1A"
        ax.axis_label_standoff = st
    p.line([wfit[0], wfit[2]], [wfit[1], wfit[3]], color="black", line_width=1, line_dash="2 2")
    p.line([mfit[0], mfit[2]], [mfit[1], mfit[3]], color="black", line_width=1.3)
    p.scatter([a for a, b in wt], [b for a, b in wt], marker="triangle", size=10,
              fill_color=None, line_color="#333333", line_width=0.8)
    p.scatter([a for a, b in mut], [b for a, b in mut], marker="circle", size=6.5, color="black")
    return p


def legend_fig(w, labels, x_title, x_key, x_text):
    p = blank(w, BC_H)
    p.text([x_title], [112], text=[LEGEND_TITLE], text_font=value(F2), text_font_size="12.5px",
           text_align="left", text_baseline="middle", text_color="#1A1A1A")
    keys_y = [128, 168]
    p.rect([x_key, x_key], keys_y, width=15, height=15, fill_color="#F2F2F2", line_color=None)
    p.line([x_key - 6, x_key + 6], [keys_y[0]] * 2, color="black", line_width=1.3)
    p.line([x_key - 6, x_key + 6], [keys_y[1]] * 2, color="black", line_width=1, line_dash="2 2")
    p.scatter([x_key], [keys_y[0]], marker="circle", size=6.5, color="black")
    p.scatter([x_key], [keys_y[1]], marker="triangle", size=9, fill_color=None, line_color="#333333",
              line_width=0.8)
    for ky, lines in zip(keys_y, labels):
        p.text([x_text] * 3, [ky, ky + 14, ky + 27], text=lines, text_font=value(F2), text_font_size="8px",
               text_align="left", text_baseline="middle", text_color="#1A1A1A")
    return p


# ---------------------------------------------------------------- layout
hdr_a = blank(851, 48)
hdr_a.text([15], [18], text=["A"], text_font=value(FB), text_font_style="bold", text_font_size="27px",
           text_align="center", text_color="black", text_baseline="middle")

ytitle = blank(22, 544)
ytitle.text([9], [272], text=["SDHD mRNA expression (RNA Seq V2 RSEM) (log2)"], angle=math.pi / 2,
            text_font=value(F1), text_font_size="11px", text_align="center", text_baseline="middle",
            text_color="black")

grid_rows = []
for r in range(4):
    grid_rows.append(row(*[facet(r * 4 + c, c) for c in range(4)]))
panel_a = row(ytitle, column(*grid_rows))

xtitle = blank(851, 96)
xtitle.text([446], [16], text=["ETS mRNA expression (RNA Seq V2 RSEM) (log2)"], text_font=value(F1),
            text_font_size="11px", text_align="center", text_baseline="middle", text_color="black")

hdr_bc = blank(858, 45)
hdr_bc.text([15, 449], [25, 25], text=["B", "C"], text_font=value(FB), text_font_style="bold",
            text_font_size="27px", text_align="center", text_color="black", text_baseline="middle")

pb = mut_fig(B_X_RANGE, B_X_TICKS, B_X_LABELS, B_MUT, B_WT, B_MUT_FIT, B_WT_FIT,
             "GABPA mRNAexpression(RNASeqV2RSEM)(log2)", 60)
lb = legend_fig(94, B_LEGEND, 10, 15, 23)
pc = mut_fig(C_X_RANGE, C_X_TICKS, C_X_LABELS, C_MUT, C_WT, C_MUT_FIT, C_WT_FIT,
             "ELF1 mRNAexpression(RNASeqV2RSEM)(log2)", 42)
lc = legend_fig(92, C_LEGEND, 11, 17, 25)

layout = column(hdr_a, panel_a, xtitle, hdr_bc, row(pb, lb, pc, lc))

open("out.html", "w").write(file_html(layout, INLINE))
